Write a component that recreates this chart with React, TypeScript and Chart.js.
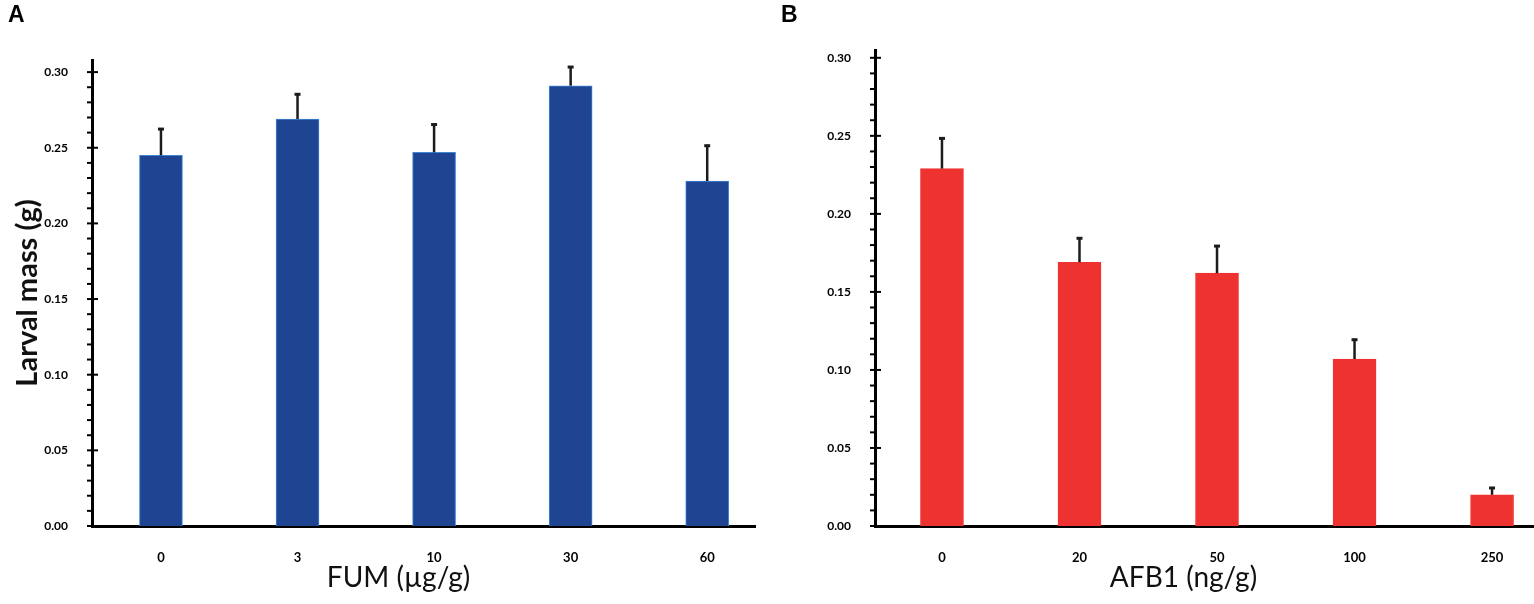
import { useEffect, useRef, JSX } from 'react';
import { Chart, registerables, Plugin } from 'chart.js';

Chart.register(...registerables);

// values
const fumLabels = ['0', '3', '10', '30', '60'];
const fumMeans = [0.245, 0.269, 0.247, 0.291, 0.228];
const fumErrors = [0.018, 0.017, 0.019, 0.013, 0.024];

const afbLabels = ['0', '20', '50', '100', '250'];
const afbMeans = [0.229, 0.169, 0.162, 0.107, 0.02];
const afbErrors = [0.02, 0.016, 0.018, 0.013, 0.005];

const yTicks = [0, 0.05, 0.1, 0.15, 0.2, 0.25, 0.3];
const minorStep = 0.01;

interface PanelProps {
    labels: string[];
    means: number[];
    errors: number[];
    color: string;
    edge: string;
    xTitle: string;
    titleShift: number;
    yTitle?: string;
    yMax: number;
    xMin: number;
    xMax: number;
    axisWidth: number;
    padTop: number;
    padRight: number;
}

// error bars drawn above each bar (upper whisker only)
const errorBarPlugin: Plugin = {
    id: 'errorBars',
    afterDatasetsDraw(chart) {
        const errs: number[] = (chart.options as any).errorValues || [];
        const meta = chart.getDatasetMeta(0);
        const yScale = chart.scales.y;
        const ctx = chart.ctx;
        ctx.save();
        ctx.strokeStyle = '#1c1c1c';
        meta.data.forEach((bar: any, i: number) => {
            const v = (chart.data.datasets[0].data[i] as any).y;
            const top = yScale.getPixelForValue(v + errs[i]);
            ctx.lineWidth = 2.5;
            ctx.beginPath();
            ctx.moveTo(bar.x, bar.y);
            ctx.lineTo(bar.x, top);
            ctx.stroke();
            ctx.lineWidth = 3;
            ctx.beginPath();
            ctx.moveTo(bar.x - 3, top + 1);
            ctx.lineTo(bar.x + 3, top + 1);
            ctx.stroke();
        });
        ctx.restore();
    }
};

// major ticks cross the axis, minor ticks sit on the left; x title drawn off-centre like the figure
const axisTickPlugin: Plugin = {
    id: 'axisTicks',
    afterDraw(chart) {
        const yScale = chart.scales.y;
        const area = chart.chartArea;
        const x0 = area.left;
        const ctx = chart.ctx;
        const last = yTicks[yTicks.length - 1];
        const n = Math.round(last / minorStep);
        ctx.save();
        ctx.strokeStyle = '#000';
        ctx.lineWidth = 2;
        for (let i = 0; i <= n; i++) {
            const py = yScale.getPixelForValue(i * minorStep);
            const major = i % 5 === 0;
            ctx.beginPath();
            ctx.moveTo(x0 - 5, py);
            ctx.lineTo(major ? x0 + 6 : x0, py);
            ctx.stroke();
        }
        const opts = chart.options as any;
        ctx.fillStyle = '#111';
        ctx.font = '28px Lato';
        ctx.textAlign = 'center';
        ctx.textBaseline = 'middle';
        ctx.fillText(opts.xTitleText, (area.left + area.right) / 2 + opts.xTitleShift, chart.height - 26);
        ctx.restore();
    }
};

function BarPanel(props: PanelProps): JSX.Element {
    const canvasRef = useRef<HTMLCanvasElement | null>(null);

    useEffect(() => {
        if (!canvasRef.current) return;
        const chart = new Chart(canvasRef.current, {
            type: 'bar',
            data: {
                datasets: [
                    {
                        data: props.means.map((m, i) => ({ x: i, y: m })),
                        backgroundColor: props.color,
                        borderColor: props.edge,
                        borderWidth: 1,
                        barThickness: 43
                    }
                ]
            },
            plugins: [errorBarPlugin, axisTickPlugin],
            options: {
                responsive: true,
                maintainAspectRatio: false,
                animation: false,
                errorValues: props.errors,
                xTitleText: props.xTitle,
                xTitleShift: props.titleShift,
                layout: { padding: { top: props.padTop, right: props.padRight, left: 0, bottom: 0 } },
                plugins: {
                    legend: { display: false },
                    tooltip: { enabled: false }
                },
                scales: {
                    x: {
                        type: 'linear',
                        min: props.xMin,
                        max: props.xMax,
                        offset: false,
                        grid: { display: false, offset: false },
                        border: { display: true, color: '#000', width: 3 },
                        afterBuildTicks: (scale: any) => {
                            scale.ticks = props.labels.map((_, i) => ({ value: i }));
                        },
                        afterFit: (scale: any) => {
                            scale.height = 78;
                        },
                        ticks: {
                            color: '#000',
                            padding: 16,
                            maxRotation: 0,
                            font: { family: 'Lato', size: 13, weight: 'bold' },
                            callback: (v: any) => props.labels[v] ?? ''
                        }
                    },
                    y: {
                        min: 0,
                        max: props.yMax,
                        grid: { display: false },
                        border: { display: true, color: '#000', width: 3 },
                        afterBuildTicks: (scale: any) => {
                            scale.ticks = yTicks.map(v => ({ value: v }));
                        },
                        afterFit: (scale: any) => {
                            scale.width = props.axisWidth;
                        },
                        ticks: {
                            color: '#000',
                            padding: 16,
                            font: { family: 'Lato', size: 12, weight: 'bold' },
                            callback: (v: any) => Number(v).toFixed(2)
                        },
                        title: {
                            display: !!props.yTitle,
                            text: props.yTitle || '',
                            color: '#111',
                            padding: { top: 10, bottom: 0 },
                            font: { family: 'Lato', size: 29, weight: 'bold' }
                        }
                    }
                }
            } as any
        });
        return () => chart.destroy();
    }, []);

    return <canvas ref={canvasRef} />;
}

export default function App(): JSX.Element {
    const letter: React.CSSProperties = {
        position: 'absolute',
        top: 3,
        fontFamily: '"Liberation Sans", Arial, sans-serif',
        fontWeight: 'bold',
        fontSize: 23,
        lineHeight: 1,
        color: '#000'
    };
    return (
        <div style={{ position: 'fixed', top: 0, left: 0, width: 1534, height: 604, background: '#fff', overflow: 'hidden' }}>
            <div style={{ position: 'absolute', left: 0, top: 0, width: 775, height: 604 }}>
                <BarPanel
                    labels={fumLabels}
                    means={fumMeans}
                    errors={fumErrors}
                    color="#1f4592"
                    edge="#3f86d6"
                    xTitle="FUM (µg/g)"
                    titleShift={-25}
                    yTitle="Larval mass (g)"
                    yMax={0.308}
                    xMin={-0.505}
                    xMax={4.35}
                    axisWidth={92}
                    padTop={60}
                    padRight={20}
                />
            </div>
            <div style={{ position: 'absolute', left: 775, top: 0, width: 759, height: 604 }}>
                <BarPanel
                    labels={afbLabels}
                    means={afbMeans}
                    errors={afbErrors}
                    color="#ee3230"
                    edge="#ee3230"
                    xTitle="AFB1 (ng/g)"
                    titleShift={-21}
                    yMax={0.305}
                    xMin={-0.487}
                    xMax={4.305}
                    axisWidth={100}
                    padTop={50}
                    padRight={0}
                />
            </div>
            <div style={{ ...letter, left: 8 }}>A</div>
            <div style={{ ...letter, left: 781 }}>B</div>
        </div>
    );
}
